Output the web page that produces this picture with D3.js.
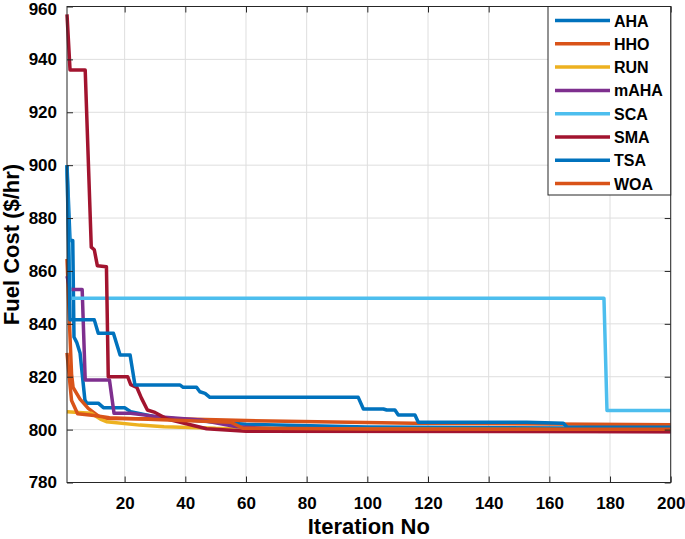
<!DOCTYPE html>
<html>
<head>
<meta charset="utf-8">
<script src="https://cdn.jsdelivr.net/npm/d3@7"></script>
<style>
  body { margin: 0; background: #fff; }
  text { font-family: "Liberation Sans", Arial, sans-serif; font-weight: bold; fill: #000; }
</style>
</head>
<body>
<svg id="chart" width="685" height="539"></svg>
<script>
// Convergence curves as [iteration, fuel cost] break points.
let names = ["AHA", "HHO", "RUN", "mAHA", "SCA", "SMA", "TSA", "WOA"];
let colors = ["#0072BD", "#D95319", "#EDB120", "#7E2F8E", "#4DBEEE", "#A2142F", "#0072BD", "#D95319"];

let aha = [[1,900],[2,871.5],[2.9,871.5],[3.3,835],[4.2,833],[5.3,829],[6.9,811.2],[7.5,810],[11.3,810],[13,808.3],[20,808.3],[22,806.8],[30,804.9],[41,803.6],[60,802],[100,801],[200,800.4]];
let hho = [[1,864.5],[2,835],[2.5,821],[3,816],[5.3,811.5],[8,808],[11.5,805],[13,804.2],[40,804],[60,803.4],[115,802.4],[200,801.8]];
let run = [[1,806.8],[9,806.2],[12,804],[14,803],[25,801.7],[33,801.1],[50,800.5],[100,800.1],[200,799.9]];
let maha = [[1,858],[2,853],[6,853],[7,818.8],[15,818.8],[16.5,806.2],[22,806.2],[30,805],[45,803.6],[57,801.1],[70,800.2],[100,799.6],[200,799.3]];
let sca = [[1,900],[2,849.7],[178,849.7],[179,807.2],[200,807.2]];
let sma = [[1,957],[2,936],[7,936],[9,869],[10,868],[11,862],[14,861.6],[14.6,820],[21,820],[22,817],[24,816],[25.5,812],[27.5,807.4],[30,806.5],[34,804],[41,802],[47,800.3],[60,799.4],[200,799.2]];
let tsa = [[1,900],[2,841.5],[10,841.5],[11.3,836.4],[16.3,836.4],[18.5,828.2],[21.8,828.2],[23.4,816.9],[38.2,816.9],[39.3,816],[43.7,816],[44.8,814.3],[46.5,813.7],[48.1,812.2],[97,812.2],[98.7,807.8],[105.3,807.8],[106.4,807.4],[109.1,807.4],[110.2,805.5],[115.7,805.5],[116.8,802.8],[152.5,802.8],[164.6,802.4],[165.9,800.9],[200,800.9]];
let woa = [[1,829],[2.5,811],[4.5,806],[10,805.3],[15,804.5],[30,803.8],[55,802.8],[59,800.5],[100,800.2],[200,800.1]];

let series = [aha, hho, run, maha, sca, sma, tsa, woa];

let xTicks = [20, 40, 60, 80, 100, 120, 140, 160, 180, 200];
let yTicks = [780, 800, 820, 840, 860, 880, 900, 920, 940, 960];

let svg = d3.select("#chart");

let axLeft = 67, axRight = 670.7, axTop = 6.5, axBottom = 482.5;

let x = d3.scaleLinear().domain([1, 200]).range([axLeft, axRight]);
let y = d3.scaleLinear().domain([780, 960]).range([axBottom, axTop]);

// grid
let grid = svg.append("g");
grid.selectAll(".gx").data(xTicks).enter().append("line")
    .attr("x1", d => x(d)).attr("x2", d => x(d))
    .attr("y1", axTop).attr("y2", axBottom)
    .attr("stroke", "#dedede").attr("stroke-width", 1);
grid.selectAll(".gy").data(yTicks).enter().append("line")
    .attr("x1", axLeft).attr("x2", axRight)
    .attr("y1", d => y(d)).attr("y2", d => y(d))
    .attr("stroke", "#dedede").attr("stroke-width", 1);

// curves, drawn in legend order so later ones sit on top
let line = d3.line().x(d => x(d[0])).y(d => y(d[1]));
let plot = svg.append("g");
series.forEach((s, i) => {
    plot.append("path")
        .attr("d", line(s))
        .attr("fill", "none")
        .attr("stroke", colors[i])
        .attr("stroke-width", 3.5)
        .attr("stroke-linejoin", "round");
});

// axes (MATLAB style: ticks inside, box on)
let tickLen = 6;
let axisColor = "#262626";
svg.append("g").attr("transform", "translate(0," + axBottom + ")")
    .call(d3.axisBottom(x).tickValues(xTicks).tickSizeInner(-tickLen).tickSizeOuter(0).tickPadding(14))
    .call(g => g.select(".domain").remove());
let yAxis = svg.append("g").attr("transform", "translate(" + axLeft + ",0)")
    .call(d3.axisLeft(y).tickValues(yTicks).tickSizeInner(-tickLen).tickSizeOuter(0).tickPadding(10))
    .call(g => g.select(".domain").remove());
svg.append("g").attr("transform", "translate(0," + axTop + ")")
    .call(d3.axisTop(x).tickValues(xTicks).tickSizeInner(-tickLen).tickSizeOuter(0).tickFormat(""))
    .call(g => g.select(".domain").remove());
svg.append("g").attr("transform", "translate(" + axRight + ",0)")
    .call(d3.axisRight(y).tickValues(yTicks).tickSizeInner(-tickLen).tickSizeOuter(0).tickFormat(""))
    .call(g => g.select(".domain").remove());

svg.selectAll(".tick line").attr("stroke", axisColor);
svg.selectAll(".tick text")
    .style("font-family", "'Liberation Sans', Arial, sans-serif")
    .style("font-weight", "bold")
    .style("font-size", "17px")
    .attr("fill", "#000");
// keep the top label inside the page
yAxis.selectAll(".tick text").filter(d => d === 960).attr("dy", "0.45em");

svg.append("rect")
    .attr("x", axLeft).attr("y", axTop)
    .attr("width", axRight - axLeft).attr("height", axBottom - axTop)
    .attr("fill", "none").attr("stroke", axisColor).attr("stroke-width", 1);

// axis labels
svg.append("text")
    .attr("x", (axLeft + axRight) / 2).attr("y", 534)
    .attr("text-anchor", "middle")
    .style("font-size", "22px")
    .text("Iteration No");
svg.append("text")
    .attr("transform", "translate(19," + (axTop + axBottom) / 2 + ") rotate(-90)")
    .attr("text-anchor", "middle")
    .style("font-size", "22px")
    .text("Fuel Cost ($/hr)");

// legend
let lg = svg.append("g");
let lgLeft = 548, lgTop = 6.5, rowH = 23.3;
lg.append("rect")
    .attr("x", lgLeft).attr("y", lgTop)
    .attr("width", axRight - lgLeft).attr("height", 188.5)
    .attr("fill", "#fff").attr("stroke", axisColor).attr("stroke-width", 1);
let rows = lg.selectAll(".row").data(names).enter().append("g")
    .attr("transform", (d, i) => "translate(0," + (lgTop + 14 + i * rowH) + ")");
rows.append("line")
    .attr("x1", 555).attr("x2", 610)
    .attr("stroke", (d, i) => colors[i]).attr("stroke-width", 3.5);
rows.append("text")
    .attr("x", 614).attr("y", 6)
    .style("font-size", "16px")
    .text(d => d);
</script>
</body>
</html>
